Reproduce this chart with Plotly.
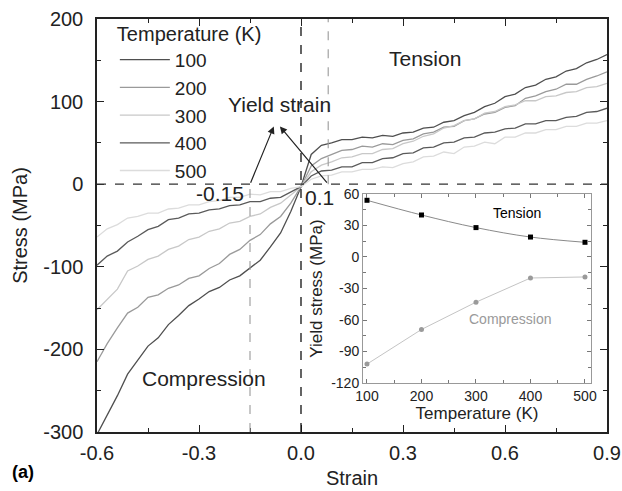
import plotly.graph_objects as go

# ---------------- data ----------------
strain = [-0.60, -0.57, -0.54, -0.51, -0.48, -0.45, -0.42, -0.39, -0.36, -0.33,
          -0.30, -0.27, -0.24, -0.21, -0.18, -0.15, -0.12, -0.09, -0.06, -0.03,
          0.00, 0.03, 0.06, 0.09, 0.12, 0.15, 0.18, 0.21, 0.24, 0.27,
          0.30, 0.33, 0.36, 0.39, 0.42, 0.45, 0.48, 0.51, 0.54, 0.57,
          0.60, 0.63, 0.66, 0.69, 0.72, 0.75, 0.78, 0.81, 0.84, 0.87, 0.90]

stress_100 = [-303, -279, -256, -230, -213, -196, -186, -170, -159, -147,
              -139, -130, -125, -116, -111, -101, -92, -76, -59, -33,
              -3, 36, 47, 50, 54, 54, 57, 56, 59, 58,
              62, 63, 68, 69, 75, 77, 83, 87, 94, 98,
              106, 109, 117, 120, 127, 130, 137, 140, 147, 151, 157]
stress_200 = [-215, -193, -174, -156, -149, -137, -134, -126, -122, -114,
              -111, -102, -96, -85, -79, -68, -61, -48, -39, -23,
              -3, 22, 31, 36, 41, 42, 46, 45, 49, 48,
              53, 55, 61, 63, 69, 70, 77, 79, 85, 87,
              93, 95, 104, 107, 112, 115, 121, 121, 127, 131, 136]
stress_300 = [-152, -139, -127, -105, -99, -91, -87, -79, -75, -67,
              -64, -57, -54, -47, -45, -39, -36, -28, -23, -13,
              -3, 15, 23, 27, 32, 33, 37, 37, 42, 43,
              49, 52, 58, 61, 68, 71, 77, 79, 86, 88,
              94, 96, 101, 101, 106, 107, 111, 112, 117, 118, 122]
stress_400 = [-98, -87, -81, -70, -63, -55, -51, -43, -41, -36,
              -35, -31, -30, -26, -25, -21, -21, -17, -16, -10,
              -3, 10, 16, 17, 21, 21, 26, 26, 31, 32,
              37, 38, 44, 45, 50, 51, 56, 57, 62, 63,
              67, 68, 73, 73, 77, 77, 81, 82, 87, 88, 92]
stress_500 = [-64, -54, -49, -41, -39, -35, -35, -30, -29, -25,
              -25, -21, -20, -16, -16, -12, -13, -9, -9, -5,
              -3, 6, 10, 11, 15, 15, 18, 18, 21, 20,
              25, 27, 33, 34, 39, 37, 45, 46, 51, 49,
              57, 57, 62, 62, 66, 66, 70, 70, 74, 74, 77]

temp_labels = ["100", "200", "300", "400", "500"]
curve_colors = ["#4f4f4f", "#9a9a9a", "#c8c8c8", "#5a5a5a", "#dcdcdc"]

# inset data
inset_temp = [100, 200, 300, 400, 500]
yield_tension = [54, 40, 28, 19, 14]
yield_compression = [-102, -69, -43, -20, -19]

yield_strain_comp = -0.15
yield_strain_tens = 0.08

main_xticks = [-0.6, -0.3, 0.0, 0.3, 0.6, 0.9]
main_xtext = ["-0.6", "-0.3", "0.0", "0.3", "0.6", "0.9"]
main_yticks = [-300, -200, -100, 0, 100, 200]
main_ytext = ["-300", "-200", "-100", "0", "100", "200"]
inset_xticks = [100, 200, 300, 400, 500]
inset_yticks = [-120, -90, -60, -30, 0, 30, 60]
inset_ytext = ["-120", "-90", "-60", "-30", "0", "30", "60"]

FONT = "Liberation Sans, Arial, sans-serif"

fig = go.Figure()

all_stress = [stress_100, stress_200, stress_300, stress_400, stress_500]
for lab, ys, col in zip(temp_labels, all_stress, curve_colors):
    fig.add_trace(go.Scatter(x=strain, y=ys, mode="lines", name=lab,
                             line=dict(color=col, width=1.3),
                             xaxis="x", yaxis="y"))

# inset traces
fig.add_trace(go.Scatter(x=inset_temp, y=yield_tension, mode="lines+markers",
                         line=dict(color="#8a8a8a", width=1, shape="spline"),
                         marker=dict(symbol="square", size=5, color="black"),
                         xaxis="x2", yaxis="y2", showlegend=False))
fig.add_trace(go.Scatter(x=inset_temp, y=yield_compression, mode="lines+markers",
                         line=dict(color="#c4c4c4", width=1),
                         marker=dict(symbol="circle", size=5, color="#9a9a9a"),
                         xaxis="x2", yaxis="y2", showlegend=False))

# reference dashed lines
shapes = [
    dict(type="line", xref="x", yref="y", x0=-0.6, x1=0.9, y0=0, y1=0,
         line=dict(color="#333333", width=1.3, dash="dash")),
    dict(type="line", xref="x", yref="y", x0=0, x1=0, y0=-300, y1=200,
         line=dict(color="#111111", width=1.3, dash="dash")),
    dict(type="line", xref="x", yref="y", x0=yield_strain_comp, x1=yield_strain_comp,
         y0=-300, y1=0, line=dict(color="#9a9a9a", width=1.1, dash="dash")),
    dict(type="line", xref="x", yref="y", x0=yield_strain_tens, x1=yield_strain_tens,
         y0=0, y1=200, line=dict(color="#9a9a9a", width=1.1, dash="dash")),
]

annotations = [
    dict(text="Tension", x=0.365, y=152, xref="x", yref="y", showarrow=False,
         font=dict(size=21, color="#222")),
    dict(text="Compression", x=-0.285, y=-235, xref="x", yref="y", showarrow=False,
         font=dict(size=21, color="#222")),
    dict(text="Yield strain", x=-0.062, y=97, xref="x", yref="y", showarrow=False,
         font=dict(size=21, color="#222")),
    dict(text="-0.15", x=-0.238, y=-11, xref="x", yref="y", showarrow=False,
         font=dict(size=21, color="#222")),
    dict(text="0.1", x=0.053, y=-16, xref="x", yref="y", showarrow=False,
         font=dict(size=21, color="#222")),
    dict(text="", x=-0.08, y=70, ax=yield_strain_comp, ay=0, xref="x", yref="y",
         axref="x", ayref="y", showarrow=True, arrowhead=2, arrowsize=1.2,
         arrowwidth=1.2, arrowcolor="#222"),
    dict(text="", x=-0.062, y=70, ax=yield_strain_tens, ay=0, xref="x", yref="y",
         axref="x", ayref="y", showarrow=True, arrowhead=2, arrowsize=1.2,
         arrowwidth=1.2, arrowcolor="#222"),
    dict(text="Tension", x=375, y=42, xref="x2", yref="y2", showarrow=False,
         font=dict(size=14, color="black")),
    dict(text="Compression", x=362, y=-59, xref="x2", yref="y2", showarrow=False,
         font=dict(size=14, color="#9a9a9a")),
    dict(text="<b>(a)</b>", x=-0.171, y=-0.097, xref="paper", yref="paper",
         xanchor="left", yanchor="middle", showarrow=False,
         font=dict(size=18, color="black")),
]

axis_common = dict(showgrid=False, zeroline=False, showline=True, mirror="ticks",
                   ticks="inside", automargin=False)

fig.update_layout(
    width=622, height=491,
    margin=dict(l=97, r=15, t=19, b=59, autoexpand=False),
    paper_bgcolor="white", plot_bgcolor="white",
    font=dict(family=FONT, color="#222"),
    shapes=shapes, annotations=annotations,
    xaxis=dict(**axis_common, domain=[0, 1], anchor="y", range=[-0.6, 0.9],
               tickvals=main_xticks, ticktext=main_xtext, ticklen=7,
               linecolor="#222", linewidth=1.5, tickcolor="#222", tickwidth=1.3,
               minor=dict(dtick=0.15, ticklen=4, tickcolor="#222", ticks="inside"),
               tickfont=dict(size=20), ticklabelstandoff=2,
               title=dict(text="Strain", font=dict(size=20), standoff=8)),
    yaxis=dict(**axis_common, domain=[0, 1], anchor="x", range=[-300, 200],
               tickvals=main_yticks, ticktext=main_ytext, ticklen=7,
               linecolor="#222", linewidth=1.5, tickcolor="#222", tickwidth=1.3,
               minor=dict(dtick=50, ticklen=4, tickcolor="#222", ticks="inside"),
               tickfont=dict(size=20), ticklabelstandoff=8,
               title=dict(text="Stress (MPa)", font=dict(size=20), standoff=10)),
    xaxis2=dict(**axis_common, domain=[0.5216, 0.9686], anchor="y2",
                range=[92.7, 511], tickvals=inset_xticks, ticklen=4,
                linecolor="#999", linewidth=1, tickcolor="#777",
                minor=dict(dtick=50, ticklen=3, tickcolor="#777", ticks="inside"),
                tickfont=dict(size=14, color="#222"),
                title=dict(text="Temperature (K)", font=dict(size=17), standoff=4)),
    yaxis2=dict(**axis_common, domain=[0.1186, 0.5763], anchor="x2",
                range=[-120, 60], tickvals=inset_yticks, ticktext=inset_ytext,
                ticklen=4, linecolor="#999", linewidth=1, tickcolor="#777",
                minor=dict(dtick=15, ticklen=3, tickcolor="#777", ticks="inside"),
                tickfont=dict(size=14, color="#222"),
                title=dict(text="Yield stress (MPa)", font=dict(size=17), standoff=4)),
    legend=dict(x=0.035, y=1.01, xanchor="left", yanchor="top",
                bgcolor="rgba(0,0,0,0)", font=dict(size=19, color="#222"),
                title=dict(text="Temperature (K)", font=dict(size=20, color="#222")),
                itemwidth=50, tracegroupgap=0),
)

# remove the browser's default 8px body margin so the figure fills the window
fig.write_html("out.html",
               config={"displayModeBar": False},
               post_script="document.body.style.margin='0';"
                           "document.body.style.overflow='hidden';")
